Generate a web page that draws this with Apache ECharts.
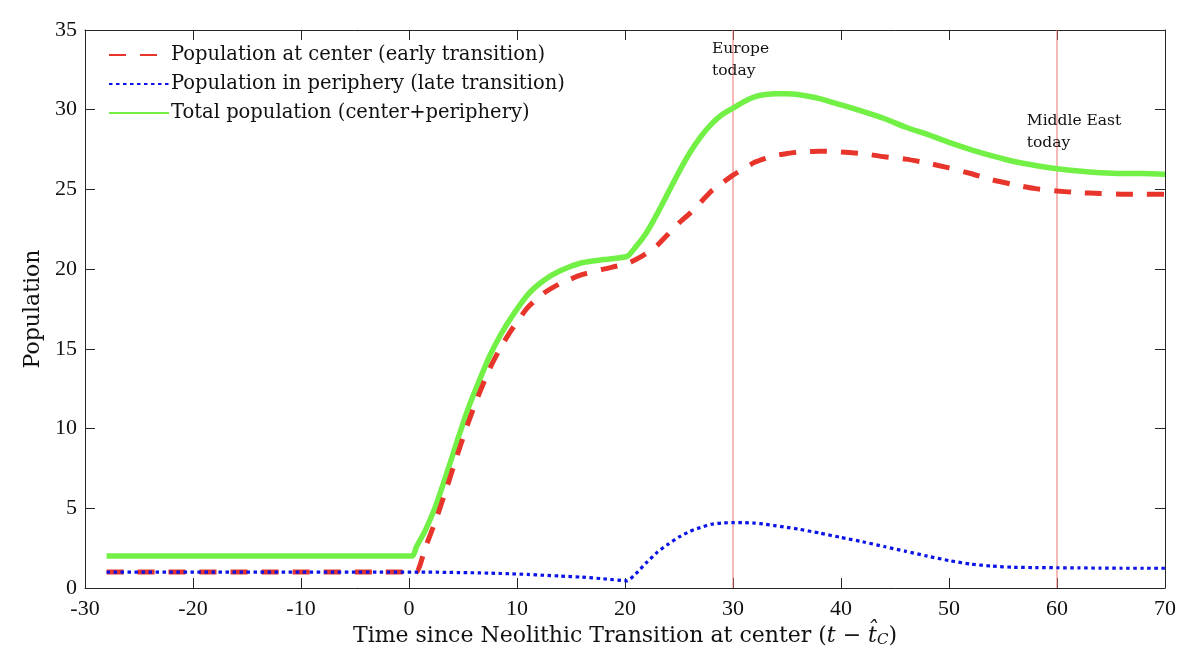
<!DOCTYPE html>
<html>
<head>
<meta charset="utf-8">
<title>Population</title>
<script src="https://cdn.jsdelivr.net/npm/echarts@6/dist/echarts.min.js"></script>
<style>
  html, body { margin: 0; padding: 0; background: #fff; }
  #chart { width: 1200px; height: 669px; }
</style>
</head>
<body>
<div id="chart"></div>
<script>
// ===================================================
//  DATOS
// ===================================================
const timeSteps = [-28, 0.3, 0.7, 1.5, 2.5, 3.5, 4.5, 5.5, 6.5, 7.5, 8.5, 9.5, 11, 12.5, 14, 16, 18, 20.2,
    21, 22, 23, 24, 25, 26, 27, 28, 29, 30, 31, 32, 33, 34, 35, 36, 38, 40, 42, 44, 46, 48, 50,
    52, 54, 56, 58, 60, 62, 64, 66, 68, 70];

const centerPop = [1.0, 1.0, 1.0, 2.5, 4.3, 6.3, 8.4, 10.4, 12.2, 13.8, 15.1, 16.2, 17.6, 18.5, 19.1, 19.65, 20.0, 20.35,
    20.6, 21.0, 21.5, 22.2, 22.9, 23.5, 24.2, 24.9, 25.4, 25.9, 26.3, 26.7, 26.95, 27.15, 27.25, 27.35, 27.4, 27.35, 27.25, 27.05, 26.9, 26.65, 26.35,
    26.0, 25.6, 25.3, 25.05, 24.9, 24.8, 24.75, 24.7, 24.7, 24.7];

const peripheryPop = [1.0, 1.0, 1.0, 1.0, 0.99, 0.98, 0.97, 0.96, 0.95, 0.93, 0.91, 0.89, 0.85, 0.8, 0.75, 0.68, 0.58, 0.45,
    0.9, 1.6, 2.25, 2.75, 3.2, 3.55, 3.8, 4.0, 4.08, 4.1, 4.1, 4.07, 4.0, 3.9, 3.8, 3.7, 3.45, 3.17, 2.9, 2.6, 2.3, 2.0, 1.72,
    1.5, 1.37, 1.3, 1.28, 1.27, 1.26, 1.25, 1.24, 1.24, 1.24];

const totalPop = [2.0, 2.0, 2.6, 3.6, 5.2, 7.2, 9.3, 11.3, 13.0, 14.6, 15.9, 17.0, 18.4, 19.3, 19.9, 20.4, 20.6, 20.8,
    21.4, 22.3, 23.5, 24.8, 26.1, 27.3, 28.3, 29.1, 29.7, 30.1, 30.5, 30.8, 30.95, 31.0, 31.0, 30.95, 30.7, 30.3, 29.9, 29.45, 28.9, 28.45, 27.95,
    27.5, 27.1, 26.75, 26.5, 26.3, 26.15, 26.05, 26.0, 26.0, 25.95];

const markers = [30, 60];
const markerLabels = ['Europe\ntoday', 'Middle East\ntoday'];

const seriesNames = [
    'Population at center (early transition)',
    'Population in periphery (late transition)',
    'Total population (center+periphery)'
];

// ===================================================
//  GRÁFICO
// ===================================================
(function () {
    const el = document.getElementById('chart');
    const chart = echarts.init(el);
    const font = 'DejaVu Serif, Liberation Serif, serif';
    const numFont = 'Liberation Serif, DejaVu Serif, serif';
    const axisColor = '#262626';
    const markColor = '#f07070';
    const yMin = 0, yMax = 35;

    const pairs = vals => timeSteps.map((t, i) => [t, vals[i]]);

    const tickStyle = { show: true, inside: true, length: 10, lineStyle: { color: axisColor, width: 1 } };

    // Líneas verticales (Europa / Oriente Medio)
    const markerSeries = markers.map(m => ({
        name: 'marker-' + m,
        type: 'line',
        data: [[m, yMin], [m, yMax]],
        symbol: 'none',
        silent: true,
        z: 1,
        lineStyle: { color: markColor, width: 1 }
    }));

    const option = {
        animation: false,
        backgroundColor: '#fff',
        textStyle: { fontFamily: font },
        grid: { left: 85, right: 35, top: 30, bottom: 81 },
        legend: {
            orient: 'vertical',
            left: 103,
            top: 40,
            itemWidth: 60,
            itemHeight: 14,
            itemGap: 9,
            itemStyle: { opacity: 0 },
            textStyle: { fontFamily: font, fontSize: 19.5, color: '#111', padding: [0, 0, 0, -3] },
            data: seriesNames
        },
        xAxis: [
            {
                type: 'value', min: -30, max: 70, interval: 10,
                name: '{n|Time since Neolithic Transition at center (}{i|t}{n| − }{i|t̂}{s|C}{n|)}',
                nameLocation: 'middle', nameGap: 36,
                nameTextStyle: {
                    rich: {
                        n: { fontFamily: font, fontSize: 22, color: '#111' },
                        i: { fontFamily: font, fontSize: 22, fontStyle: 'italic', color: '#111' },
                        s: { fontFamily: font, fontSize: 15, fontStyle: 'italic', color: '#111', verticalAlign: 'bottom', padding: [9, 0, 0, 0] }
                    }
                },
                axisLine: { show: true, onZero: false, lineStyle: { color: axisColor } },
                axisTick: tickStyle,
                axisLabel: { fontFamily: numFont, fontSize: 22, color: '#111', margin: 10 },
                splitLine: { show: false }
            },
            {
                type: 'value', min: -30, max: 70, interval: 10, position: 'top',
                axisLine: { show: true, onZero: false, lineStyle: { color: axisColor } },
                axisTick: tickStyle,
                axisLabel: { show: false },
                splitLine: { show: false }
            }
        ],
        yAxis: [
            {
                type: 'value', min: yMin, max: yMax, interval: 5,
                name: 'Population',
                nameLocation: 'middle', nameGap: 37,
                nameTextStyle: { fontFamily: font, fontSize: 22, color: '#111' },
                axisLine: { show: true, onZero: false, lineStyle: { color: axisColor } },
                axisTick: tickStyle,
                axisLabel: { fontFamily: numFont, fontSize: 22, color: '#111', margin: 8 },
                splitLine: { show: false }
            },
            {
                type: 'value', min: yMin, max: yMax, interval: 5, position: 'right',
                axisLine: { show: true, onZero: false, lineStyle: { color: axisColor } },
                axisTick: tickStyle,
                axisLabel: { show: false },
                splitLine: { show: false }
            }
        ],
        series: markerSeries.concat([
            {
                name: seriesNames[0],
                type: 'line',
                data: pairs(centerPop),
                symbol: 'none',
                smooth: 0.2,
                z: 3,
                lineStyle: { color: '#e8352b', width: 5, type: [17, 14] },
                itemStyle: { color: '#e8352b' }
            },
            {
                name: seriesNames[1],
                type: 'line',
                data: pairs(peripheryPop),
                symbol: 'none',
                smooth: 0.2,
                z: 4,
                lineStyle: { color: '#0a14e6', width: 3.2, type: [3.5, 3.5] },
                itemStyle: { color: '#0a14e6' }
            },
            {
                name: seriesNames[2],
                type: 'line',
                data: pairs(totalPop),
                symbol: 'none',
                smooth: 0.2,
                z: 2,
                lineStyle: { color: '#72f046', width: 5.5 },
                itemStyle: { color: '#72f046' }
            }
        ])
    };

    chart.setOption(option);

    // Etiquetas de las líneas verticales
    const labelPos = [[28.05, 35], [57.2, 30.5]];
    const graphics = markers.map((m, i) => {
        const p = chart.convertToPixel({ xAxisIndex: 0, yAxisIndex: 0 }, labelPos[i]);
        return {
            type: 'text',
            x: p[0],
            y: p[1] + 8,
            z: 10,
            style: {
                text: markerLabels[i],
                font: '15.5px ' + font,
                fill: '#111',
                lineHeight: 22
            }
        };
    });
    chart.setOption({ graphic: graphics });
})();
</script>
</body>
</html>
